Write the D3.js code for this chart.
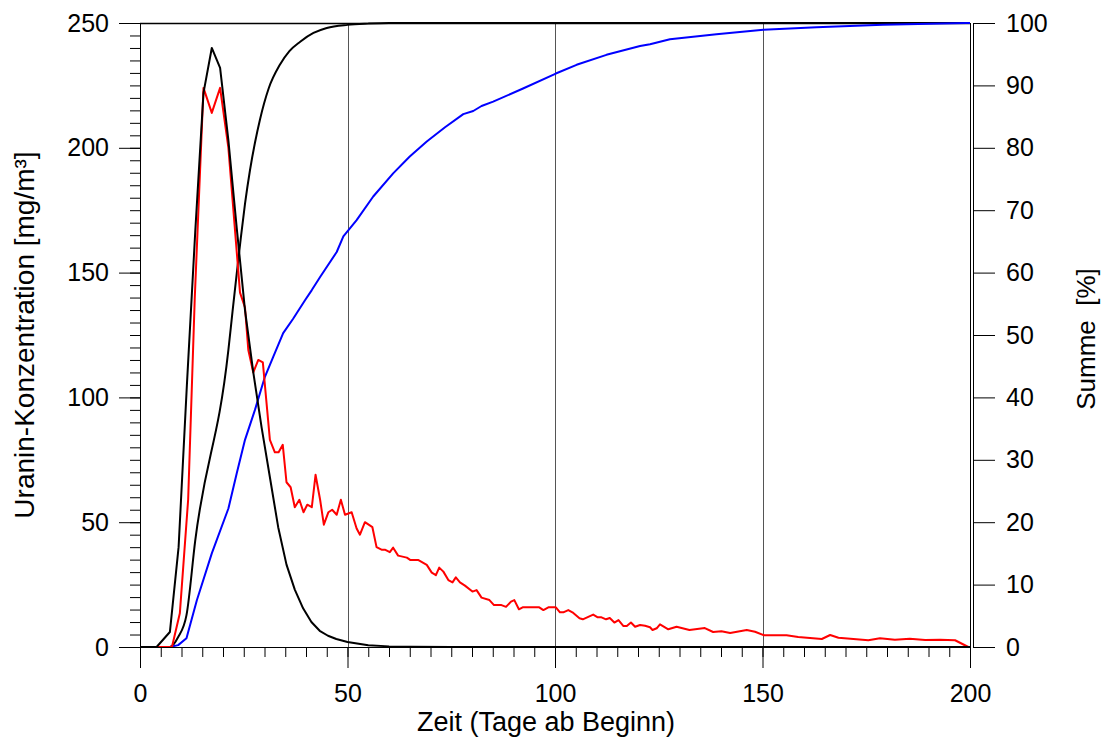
<!DOCTYPE html>
<html>
<head>
<meta charset="utf-8">
<script src="https://cdn.jsdelivr.net/npm/d3@7"></script>
<style>
  html, body { margin: 0; padding: 0; background: #fff; }
  svg text { font-family: "Liberation Sans", Arial, sans-serif; fill: #000; }
</style>
</head>
<body>
<svg id="chart" width="1108" height="740"></svg>
<script>
// ---------- data ----------
const xTicks = [0, 50, 100, 150, 200];
const yLeftTicks = [0, 50, 100, 150, 200, 250];
const yRightTicks = [0, 10, 20, 30, 40, 50, 60, 70, 80, 90, 100];
const gridDays = [50, 100, 150];

// measured concentration (red) [day, mg/m³]
const measDays = [0,7.7,9.6,11.6,13.2,15.3,17.3,19.3,21.3,24.1,25.3,26.1,27.3,28.5,29.6,31.3,32.5,33.4,34.4,35.3,36.3,37.3,38.4,39.4,40.3,41.4,42.3,43.4,44.3,45.4,46.3,47.4,48.4,49.4,51,52.2,53,54.2,56,57,58.2,59,60.2,61,62.2,64.3,65.1,67,69.1,70.3,71.3,72.1,73.1,74.3,75.3,76.1,77.1,78.3,80.1,81.1,82.3,84.2,85.3,87.1,88.2,89.4,90.2,91.3,92.2,96.2,97.2,98.4,100.2,101.2,102,103.2,104.2,105.9,106.7,109.2,110.3,111.2,112.3,113.2,114.3,115.3,116.5,117.3,118.3,119.3,120.5,121.7,122.9,123.5,124.5,125.3,127.3,129.3,132.4,136.1,138.1,140.1,142.2,146.2,148.2,150.4,155.8,158.6,164.3,166.3,168.3,171.9,175.5,178.3,181.9,185.5,189.2,192.8,196.4,199.6];
const measConc = [0,0,13.5,59,140,224,214,224,200,142,136,119,110,115,114,83,78,78,81,66,64,56,59,54,57,56,69,59,49,54,55,53,59,53,54,47.5,45,50,48,40,39,39,38,39.8,36.6,35.8,34.9,34.9,32.9,29.8,28.8,31.8,30.2,26.8,25.9,27.9,25.9,24.6,22.2,22.8,19.8,18.8,16.8,16.8,16.1,18.2,18.8,15.1,15.9,15.9,14.8,15.9,15.9,13.9,13.9,14.8,13.9,11.5,11.1,13,11.9,11.9,11.1,11.6,9.8,10.8,8.4,8.4,9.8,8.1,8.8,8.5,7.9,6.8,7.5,9.1,7.1,8.1,6.8,7.6,6,6.3,5.6,6.8,6.1,4.7,4.7,4,3.2,4.8,3.7,3.2,2.7,3.5,2.9,3.3,2.8,2.9,2.7,0];

// measured cumulative sum (blue) [day, %]
const sumDays = [0,7.2,9.2,11.2,13.7,17.3,21.3,23.3,25.3,27.7,30.1,32.1,34.5,36.9,39.8,41.4,43.4,47.4,49,52.2,56.2,61,65,69.1,73.5,77.9,80.3,82.3,85.1,92.3,100.2,105.2,112.4,120.5,122.9,127.7,138.9,150.2,163,179,199,200];
const sumPct = [0,0,0.3,1.4,7.5,15,22.2,27.8,33.2,38,43.3,46.5,50.3,52.6,55.6,57.2,59.3,63.3,65.8,68.4,72.2,75.9,78.6,81,83.3,85.4,85.9,86.7,87.4,89.5,91.9,93.3,94.9,96.3,96.6,97.4,98.2,98.9,99.3,99.7,100,100];

// model concentration (black peak) [day, mg/m³]
const modelDays = [0,4,7.2,9.3,11.3,13.3,15.3,17.3,19.3,21.3,23.3,25.3,27.3,29.3,31.3,33.3,35.3,37.3,39.3,41.3,43.3,45.3,47.3,50,55,60,65,75,200];
const modelConc = [0,0,6,40,105,166,222,240,232,203,168,135,110,88,68,48,33,23,15.5,10,6.5,4.5,3.2,2,0.7,0.25,0.08,0,0];

// model cumulative sum (black S-curve) [day, %]
const modelSumDays = [0,7.2,9.2,11.2,13.3,21.3,22.3,23.3,24.3,25.3,26.5,27.7,28.9,31,33.7,36,38.6,41.8,45,50,55,60,200];
const modelSumPct = [0,0,1.6,5.1,17,47.6,53.8,59.8,65.6,71,76.4,80.8,84.5,89.5,93.3,95.5,97,98.4,99.2,99.7,99.9,100,100];

// ---------- layout ----------
const svg = d3.select("#chart");
const L = 140, R = 970, T = 23, B = 647;

const x = d3.scaleLinear().domain([0, 200]).range([L, R]);
const yL = d3.scaleLinear().domain([0, 250]).range([B, T]);
const yR = d3.scaleLinear().domain([0, 100]).range([B, T]);

svg.append("rect").attr("width", 1108).attr("height", 740).attr("fill", "#fff");

// grid lines
svg.append("g").selectAll("line").data(gridDays).join("line")
  .attr("x1", d => Math.round(x(d)) + 0.5).attr("x2", d => Math.round(x(d)) + 0.5)
  .attr("y1", T).attr("y2", B)
  .attr("stroke", "#555").attr("stroke-width", 1);

// top frame line
svg.append("line").attr("x1", L).attr("x2", R).attr("y1", T + 0.5).attr("y2", T + 0.5)
  .attr("stroke", "#000").attr("stroke-width", 1.5);
// right frame line
svg.append("line").attr("x1", R + 0.5).attr("x2", R + 0.5).attr("y1", T).attr("y2", B)
  .attr("stroke", "#000").attr("stroke-width", 1);

// ---------- curves ----------
const zip = (a, b) => a.map((d, i) => [d, b[i]]);
const lineL = d3.line().x(d => x(d[0])).y(d => yL(d[1]));

svg.append("path").datum(zip(modelSumDays, modelSumPct))
  .attr("d", d3.line().x(d => x(d[0])).y(d => yR(d[1])).curve(d3.curveMonotoneX)).attr("fill", "none")
  .attr("stroke", "#000").attr("stroke-width", 2).attr("stroke-linejoin", "round");

svg.append("path").datum(zip(sumDays, sumPct))
  .attr("d", d3.line().x(d => x(d[0])).y(d => yR(d[1]))).attr("fill", "none")
  .attr("stroke", "#0000ff").attr("stroke-width", 2).attr("stroke-linejoin", "round");

svg.append("path").datum(zip(measDays, measConc))
  .attr("d", lineL).attr("fill", "none")
  .attr("stroke", "#ff0000").attr("stroke-width", 2).attr("stroke-linejoin", "round");

svg.append("path").datum(zip(modelDays, modelConc))
  .attr("d", d3.line().x(d => x(d[0])).y(d => yL(d[1]))).attr("fill", "none")
  .attr("stroke", "#000").attr("stroke-width", 2).attr("stroke-linejoin", "round");

// ---------- axes ----------
function styleAxis(g) {
  g.selectAll(".tick line").attr("stroke", "#000");
  g.select(".domain").attr("stroke", "#000");
  g.selectAll("text").attr("font-size", 25).attr("font-family", '"Liberation Sans", Arial, sans-serif');
}

// left minor
svg.append("g").attr("transform", `translate(${L},0)`)
  .call(d3.axisLeft(yL).tickValues(d3.range(0, 251, 5)).tickSize(10).tickFormat(""))
  .call(g => g.select(".domain").remove())
  .call(styleAxis);
// left major
svg.append("g").attr("transform", `translate(${L},0)`)
  .call(d3.axisLeft(yL).tickValues(yLeftTicks).tickSize(21).tickSizeOuter(0).tickPadding(10))
  .call(styleAxis);

// bottom minor
svg.append("g").attr("transform", `translate(0,${B})`)
  .call(d3.axisBottom(x).tickValues(d3.range(0, 201, 5)).tickSize(10).tickFormat(""))
  .call(g => g.select(".domain").remove())
  .call(styleAxis);
// bottom major
svg.append("g").attr("transform", `translate(0,${B})`)
  .call(d3.axisBottom(x).tickValues(xTicks).tickSize(21).tickSizeOuter(0).tickPadding(16))
  .call(styleAxis);

// right axis
svg.append("g").attr("transform", `translate(${R + 3},0)`)
  .call(d3.axisRight(yR).tickValues(yRightTicks).tickSize(22).tickSizeOuter(0).tickPadding(11))
  .call(styleAxis);

// ---------- titles ----------
svg.append("text").attr("x", 546).attr("y", 731).attr("text-anchor", "middle")
  .attr("font-size", 27).text("Zeit (Tage ab Beginn)");

svg.append("text").attr("transform", "translate(34,335) rotate(-90)")
  .attr("text-anchor", "middle").attr("font-size", 28).text("Uranin-Konzentration [mg/m³]");

svg.append("text").attr("transform", "translate(1095,339) rotate(-90)")
  .attr("text-anchor", "middle").attr("font-size", 26).attr("xml:space", "preserve")
  .style("white-space", "pre").text("Summe  [%]");
</script>
</body>
</html>
